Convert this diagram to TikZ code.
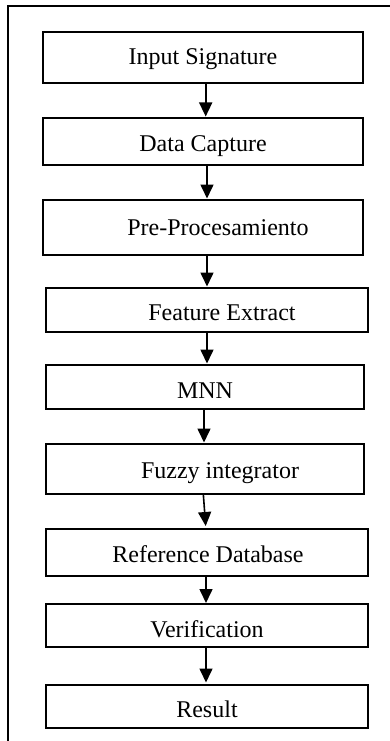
\documentclass[tikz,border=0pt]{standalone}
\usepackage{fontspec}
\setmainfont{Liberation Serif}
\usetikzlibrary{arrows.meta}
\tikzset{
  stepbox/.style={draw=black, line width=1.8pt, rectangle, inner sep=0pt, outer sep=0pt, fill=none},
  steplabel/.style={inner sep=0pt, anchor=base, font=\fontsize{24}{28}\selectfont},
  arr/.style={draw=black, line width=1.6pt, -{Triangle[length=14pt,width=13pt]}},
  frameline/.style={draw=black, line width=1.8pt}
}
\begin{document}
\begin{tikzpicture}[x=1pt,y=-1pt]
\useasboundingbox (0,0) rectangle (390,741);
\draw[frameline] (8,741) -- (8,6) -- (390,6);
% boxes
\node[stepbox, minimum width=320pt, minimum height=51pt] (b1) at (203,57.5) {};
\node[stepbox, minimum width=320pt, minimum height=47pt] (b2) at (203,141.5) {};
\node[stepbox, minimum width=320pt, minimum height=55pt] (b3) at (203,227.5) {};
\node[stepbox, minimum width=322pt, minimum height=44pt] (b4) at (207,310) {};
\node[stepbox, minimum width=318pt, minimum height=44pt] (b5) at (205,387) {};
\node[stepbox, minimum width=318pt, minimum height=50pt] (b6) at (205,469) {};
\node[stepbox, minimum width=322pt, minimum height=47pt] (b7) at (207,552.5) {};
\node[stepbox, minimum width=322pt, minimum height=43pt] (b8) at (207,625.5) {};
\node[stepbox, minimum width=322pt, minimum height=43pt] (b9) at (207,706.5) {};
% labels
\node[steplabel] (t1) at (203,65) {Input Signature};
\node[steplabel] (t2) at (203,151.5) {Data Capture};
\node[steplabel] (t3) at (218,235) {Pre-Procesamiento};
\node[steplabel] (t4) at (222,320) {Feature Extract};
\node[steplabel] (t5) at (205,398) {MNN};
\node[steplabel] (t6) at (220,478) {Fuzzy integrator};
\node[steplabel] (t7) at (208,562) {Reference Database};
\node[steplabel] (t8) at (207,637) {Verification};
\node[steplabel] (t9) at (207,717) {Result};
% arrows
\draw[arr] ([xshift=2.7pt]b1.south) -- ([xshift=2.7pt,yshift=1.5pt]b2.north);
\draw[arr] ([xshift=4pt]b2.south) -- ([xshift=4pt,yshift=1.5pt]b3.north);
\draw[arr] ([xshift=4pt]b3.south) -- ([xshift=0pt,yshift=1.5pt]b4.north);
\draw[arr] ([xshift=0pt]b4.south) -- ([xshift=2pt,yshift=1.5pt]b5.north);
\draw[arr] ([xshift=-1pt]b5.south) -- ([xshift=-1pt,yshift=1.5pt]b6.north);
\draw[arr] ([xshift=-1.7pt]b6.south) -- ([xshift=-1.3pt,yshift=3pt]b7.north);
\draw[arr] ([xshift=-1pt]b7.south) -- ([xshift=-1pt,yshift=1pt]b8.north);
\draw[arr] ([xshift=-1pt]b8.south) -- ([xshift=-1pt,yshift=2.5pt]b9.north);
\end{tikzpicture}
\end{document}
